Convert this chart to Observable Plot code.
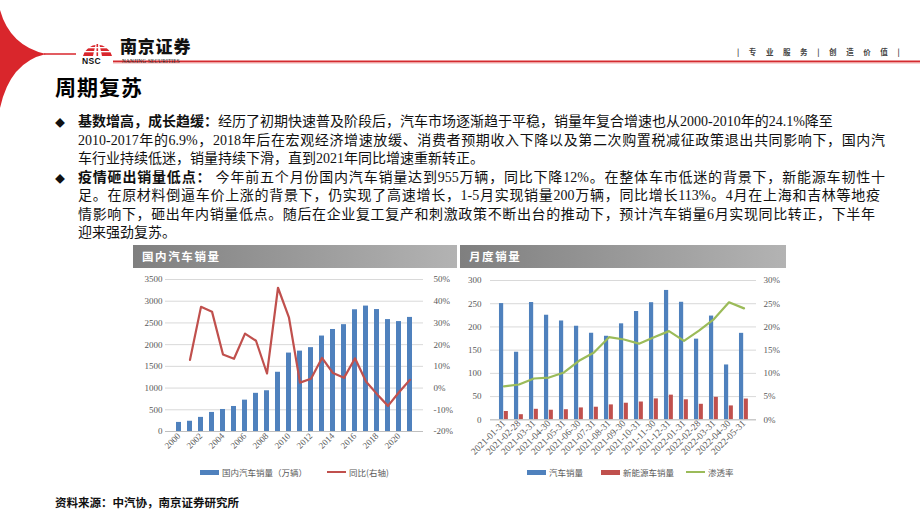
<!DOCTYPE html>
<html><head><meta charset="utf-8">
<script src="https://cdn.jsdelivr.net/npm/d3@7"></script>
<script src="https://cdn.jsdelivr.net/npm/@observablehq/plot@0.6"></script>
<style>
html,body{margin:0;padding:0;background:#fff;}
#page{position:relative;width:920px;height:518px;overflow:hidden;background:#fff;font-family:"Noto Sans CJK SC",sans-serif;}
.abs{position:absolute;}
.line{position:absolute;left:78px;white-space:nowrap;font-size:14px;line-height:18px;color:#111;font-family:"Liberation Serif","Noto Sans CJK SC",serif;}
.just{width:807px;text-align:justify;text-align-last:justify;}
.bul{position:absolute;left:55px;font-size:10px;line-height:12px;color:#111;}
.band{position:absolute;top:245px;height:23px;background:linear-gradient(to right,#7f7f7f,#b3b3b3);color:#fff;font-weight:700;font-size:11.5px;letter-spacing:1.6px;line-height:23px;box-sizing:border-box;padding-left:9px;}
.leg{position:absolute;top:466px;font-size:8.5px;color:#595959;display:flex;align-items:center;white-space:nowrap;}
.sw{display:inline-block;width:19px;height:5px;margin-right:3px;}
.ln{display:inline-block;width:19px;height:2.5px;margin-right:3px;}
#c2 g[aria-label="x-axis tick label"] text{font-size:9.5px;}
</style></head>
<body><div id="page">
<svg class="abs" style="left:0;top:0" width="920" height="110">
  <path d="M0,10 Q10,46 46,54 Q10,62 0,108 Z" fill="#d9262c"/>
  <line x1="44" y1="54" x2="76" y2="54" stroke="#d9262c" stroke-width="1.5"/>
  <line x1="113" y1="61.5" x2="920" y2="61.5" stroke="#d42a2f" stroke-width="2"/>
  <line x1="113" y1="63" x2="920" y2="63" stroke="#f2b0b0" stroke-width="1"/>
  <path d="M83,56 A15,15 0 0 1 112,56 Z" fill="#d9262c"/>
  <path d="M93,56 Q96,42 97.5,38 Q99,42 102,56 Z" fill="#fff"/>
  <rect x="96.5" y="44" width="1.6" height="12" fill="#d9262c"/>
  <rect x="82" y="47" width="31" height="1.3" fill="#fff"/>
  <rect x="82" y="51" width="31" height="1.3" fill="#fff"/>
</svg>
<div class="abs" style="left:82px;top:57px;font:900 8.5px/1 'Liberation Sans',sans-serif;letter-spacing:0.3px;color:#111;">NSC</div>
<div class="abs" style="left:120px;top:37px;font-weight:900;font-size:17px;line-height:1;color:#111;letter-spacing:0.8px;">南京证券</div>
<div class="abs" style="left:122px;top:59px;font:5.3px/1 'Liberation Serif',serif;color:#222;letter-spacing:0.2px;">NANJING SECURITIES</div>
<div class="abs" style="left:737px;top:48px;font-size:7.5px;line-height:1;font-weight:700;color:#444;letter-spacing:9.6px;white-space:nowrap;">|专业服务|创造价值|</div>
<div class="abs" style="left:55px;top:75px;font-size:21px;line-height:1.1;font-weight:700;color:#000;letter-spacing:1px;">周期复苏</div>

<div class="bul" style="top:117px">◆</div>
<div class="line" style="top:113px"><b>基数增高，成长趋缓：</b>经历了初期快速普及阶段后，汽车市场逐渐趋于平稳，销量年复合增速也从2000-2010年的24.1%降至</div>
<div class="line just" style="top:131.5px">2010-2017年的6.9%，2018年后在宏观经济增速放缓、消费者预期收入下降以及第二次购置税减征政策退出共同影响下，国内汽</div>
<div class="line" style="top:150px">车行业持续低迷，销量持续下滑，直到2021年同比增速重新转正。</div>
<div class="bul" style="top:172.5px">◆</div>
<div class="line just" style="top:168.5px"><b>疫情砸出销量低点：</b> 今年前五个月份国内汽车销量达到955万辆，同比下降12%。在整体车市低迷的背景下，新能源车韧性十</div>
<div class="line just" style="top:187px;width:802px">足。在原材料倒逼车价上涨的背景下，仍实现了高速增长，1-5月实现销量200万辆，同比增长113%。4月在上海和吉林等地疫</div>
<div class="line just" style="top:205.5px;width:797px">情影响下，砸出年内销量低点。随后在企业复工复产和刺激政策不断出台的推动下，预计汽车销量6月实现同比转正，下半年</div>
<div class="line" style="top:224px">迎来强劲复苏。</div>

<div class="band" style="left:133px;width:324px;">国内汽车销量</div>
<div class="band" style="left:460px;width:326px;">月度销量</div>

<div id="c1" class="abs" style="left:130px;top:270px"></div>
<div id="c2" class="abs" style="left:458px;top:270px"></div>

<div class="leg" style="left:200px"><span class="sw" style="background:#4f81bd"></span>国内汽车销量（万辆）<span style="display:inline-block;width:20px"></span><span class="ln" style="background:#c0504d"></span>同比(右轴)</div>
<div class="leg" style="left:527px"><span class="sw" style="background:#4f81bd"></span>汽车销量<span style="display:inline-block;width:18px"></span><span class="sw" style="background:#c0504d"></span>新能源车销量<span style="display:inline-block;width:12px"></span><span class="ln" style="background:#9bbb59"></span>渗透率</div>

<div class="abs" style="left:55px;top:494px;font-size:11.5px;font-weight:700;color:#111;">资料来源：中汽协，南京证券研究所</div>
</div>
<script>
// ---- Chart 1: 国内汽车销量 ----
const years = ["2000","2001","2002","2003","2004","2005","2006","2007","2008","2009","2010","2011","2012","2013","2014","2015","2016","2017","2018","2019","2020","2021"];
const annualSales = [209,236,325,439,507,576,722,879,938,1364,1806,1851,1931,2198,2349,2460,2803,2888,2808,2577,2531,2627];
const annualYoY = [null,13.0,37.4,35.2,15.5,13.5,25.1,21.8,6.7,46.2,32.4,2.5,4.3,13.9,6.9,4.7,13.7,3.0,-2.8,-8.2,-1.9,3.8];
const leftTicks1 = [0,500,1000,1500,2000,2500,3000,3500];
const rightTicks1 = [-20,-10,0,10,20,30,40,50];

// ---- Chart 2: 月度销量 ----
const months = ["2021-01-31","2021-02-28","2021-03-31","2021-04-30","2021-05-31","2021-06-30","2021-07-31","2021-08-31","2021-09-30","2021-10-31","2021-11-30","2021-12-31","2022-01-31","2022-02-28","2022-03-31","2022-04-30","2022-05-31"];
const autoSales = [250.3,145.5,252.6,225.2,212.8,201.5,186.4,179.9,206.7,233.2,252.2,278.6,253.1,173.7,223.4,118.1,186.2];
const nevSales = [17.9,11.0,22.6,20.6,21.7,25.6,27.1,32.1,35.7,38.3,45.0,53.1,43.1,33.4,48.4,29.9,44.7];
const penetration = [7.2,7.6,8.9,9.1,10.2,12.7,14.5,17.8,17.3,16.4,17.8,19.1,17.0,19.2,21.7,25.3,24.0];
const leftTicks2 = [0,50,100,150,200,250,300];
const rightTicks2 = [0,5,10,15,20,25,30];

const axisStyle = {fontFamily:"'Liberation Serif',serif", fontSize:"9px", color:"#595959", background:"transparent", overflow:"visible"};
const plain = d3.format("d");

// dual-axis mapping chart 1
const r2l1 = d3.scaleLinear().domain([-20,50]).range([0,3500]);
const table1 = years.map((year,i)=>({year, sales: annualSales[i], yoy: annualYoY[i]}));

const c1 = Plot.plot({
  width: 325, height: 195, marginLeft: 35, marginRight: 32, marginTop: 9, marginBottom: 34,
  style: axisStyle,
  x: {type:"band", domain: years, padding: 0.52, align: 0.5},
  y: {domain:[0,3500]},
  marks: [
    Plot.gridY(leftTicks1, {stroke:"#d9d9d9", strokeOpacity:1}),
    Plot.barY(table1, {x:"year", y:"sales", fill:"#4f81bd"}),
    Plot.ruleY([0], {stroke:"#bfbfbf"}),
    Plot.line(table1.filter(d=>d.yoy!=null), {x:"year", y:d=>r2l1(d.yoy), stroke:"#c0504d", strokeWidth:2.2}),
    Plot.axisY({ticks: leftTicks1, tickFormat: plain, tickSize:0, tickPadding:3, label:null}),
    Plot.axisY({anchor:"right", ticks: rightTicks1.map(r2l1), tickFormat: d=>Math.round(r2l1.invert(d))+"%", tickSize:0, tickPadding:10, textAnchor:"start", label:null}),
    Plot.axisX({ticks: years.filter((d,i)=>i%2===0), tickRotate:-45, tickSize:0, tickPadding:3, label:null})
  ]
});
document.getElementById("c1").appendChild(c1);

// chart 2
const r2l2 = d3.scaleLinear().domain([0,30]).range([0,300]);
const table2 = months.map((m,i)=>({m, auto: autoSales[i], nev: nevSales[i], pen: penetration[i]}));
const W2 = 330, mL2 = 32, mR2 = 32;
const bw = (W2 - mL2 - mR2) / months.length;
const c2 = Plot.plot({
  width: W2, height: 195, marginLeft: mL2, marginRight: mR2, marginTop: 10, marginBottom: 45.7,
  style: axisStyle,
  x: {type:"band", domain: months, padding: 0},
  y: {domain:[0,300]},
  marks: [
    Plot.gridY(leftTicks2, {stroke:"#d9d9d9", strokeOpacity:1}),
    Plot.barY(table2, {x:"m", y:"auto", fill:"#4f81bd", insetLeft: bw*0.19, insetRight: bw/2}),
    Plot.barY(table2, {x:"m", y:"nev", fill:"#c0504d", insetLeft: bw/2, insetRight: bw*0.2}),
    Plot.ruleY([0], {stroke:"#bfbfbf"}),
    Plot.line(table2, {x:"m", y:d=>r2l2(d.pen), stroke:"#9bbb59", strokeWidth:2.2}),
    Plot.axisY({ticks: leftTicks2, tickFormat: plain, tickSize:0, tickPadding:9, label:null}),
    Plot.axisY({anchor:"right", ticks: rightTicks2.map(r2l2), tickFormat: d=>Math.round(r2l2.invert(d))+"%", tickSize:0, tickPadding:7, textAnchor:"start", label:null}),
    Plot.axisX({tickRotate:-45, tickSize:0, tickPadding:2, label:null, fontSize:9.5})
  ]
});
document.getElementById("c2").appendChild(c2);
</script>
</body></html>
